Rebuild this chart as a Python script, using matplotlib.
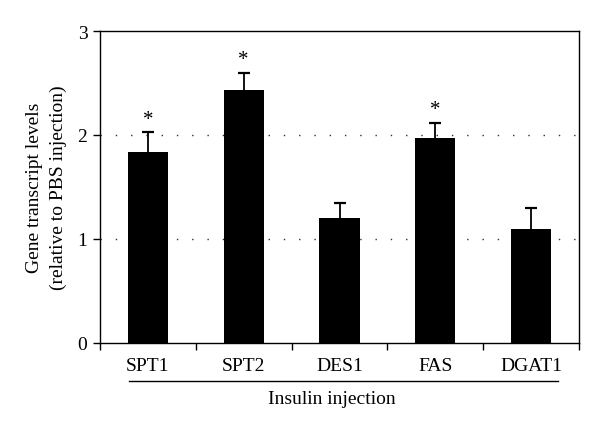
import matplotlib.pyplot as plt

genes = ['SPT1', 'SPT2', 'DES1', 'FAS', 'DGAT1']
levels = [1.84, 2.43, 1.20, 1.97, 1.10]
errors = [0.19, 0.17, 0.15, 0.15, 0.20]
significant = [True, True, False, True, False]

plt.rcParams['font.family'] = ['Liberation Serif', 'DejaVu Serif']

fig = plt.figure(figsize=(6.0, 4.31), dpi=100)
ax = fig.add_axes([100 / 600, 1 - 344 / 431, 479 / 600, 312 / 431])

x = list(range(len(genes)))
tops = [lv + er for lv, er in zip(levels, errors)]
ax.bar(x, levels, width=0.42, color='black', zorder=3)
# upper error bars only
ax.vlines(x, levels, tops, color='black', linewidth=1.3, zorder=3)
ax.plot(x, tops, linestyle='none', marker='_', markersize=9, markeredgewidth=1.6,
        color='black', zorder=3)
for xi, top, sig in zip(x, tops, significant):
    if sig:
        ax.text(xi, top + 0.03, '*', ha='center', va='bottom', fontsize=15)

ax.set_xlim(-0.5, len(genes) - 0.5)
ax.set_ylim(0, 3)
ax.set_yticks([0, 1, 2, 3])
ax.set_xticks(x)
ax.set_xticklabels(genes)
ax.set_xticks([i + 0.5 for i in x[:-1]] + [-0.5, len(genes) - 0.5], minor=True)
ax.tick_params(axis='x', which='major', length=0, labelsize=14, pad=10)
ax.tick_params(axis='x', which='minor', length=5, width=1, direction='out')
ax.tick_params(axis='y', length=5, width=1, labelsize=14, pad=4)
for y in (1, 2):
    ax.axhline(y, color='#333333', linestyle=(0, (1, 10)), linewidth=1, zorder=1)
for s in ax.spines.values():
    s.set_linewidth(1)

ax.set_ylabel('Gene transcript levels\n(relative to PBS injection)', fontsize=14,
              labelpad=8, linespacing=1.45)

# bracket under the gene names
fig.add_artist(plt.Line2D([129 / 600, 558 / 600], [1 - 382 / 431] * 2,
                          color='black', linewidth=1))
fig.text(332 / 600, 1 - 400 / 431, 'Insulin injection', ha='center', va='center', fontsize=14)

fig.savefig('out.png', dpi=100)
